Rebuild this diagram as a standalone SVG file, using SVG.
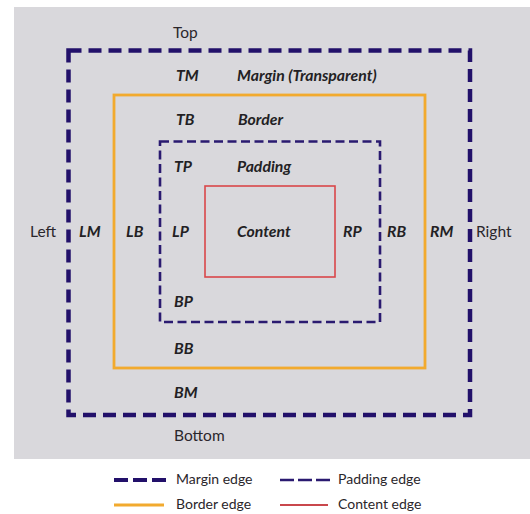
<svg xmlns="http://www.w3.org/2000/svg" width="530" height="514" viewBox="0 0 530 514">
<style>
.lbl{font-family:Lato,"Open Sans","Liberation Sans",sans-serif;font-size:15.8px;font-style:italic;font-weight:700;fill:#231f24}
.side{font-family:Lato,"Open Sans","Liberation Sans",sans-serif;font-size:15.5px;fill:#2a262b}
.leg{font-family:Lato,"Open Sans","Liberation Sans",sans-serif;font-size:14px;fill:#2a262b}
.margin{fill:none;stroke:#22106a;stroke-width:4.5;stroke-dasharray:13 7}
.border{fill:none;stroke:#f2aa2e;stroke-width:2.8}
.padding{fill:none;stroke:#2a1a70;stroke-width:2.6;stroke-dasharray:9 4.5}
.content{fill:none;stroke:#d9474a;stroke-width:1.6}
</style>
<rect x="0" y="0" width="530" height="514" fill="#ffffff"/>
<rect x="14" y="7" width="516" height="452" fill="#d9d8dc"/>
<g id="margin-box">
<rect x="68.5" y="50.5" width="401.5" height="364.5" fill="#f3f1f3" class="margin"/>
<text class="side" x="173" y="38">Top</text>
<text class="side" x="30" y="237">Left</text>
<text class="side" x="476" y="237">Right</text>
<text class="side" x="174" y="441">Bottom</text>
<text class="lbl" x="176" y="81">TM</text>
<text class="lbl" x="237" y="81">Margin (Transparent)</text>
<text class="lbl" x="79" y="237">LM</text>
<text class="lbl" x="430" y="237">RM</text>
<text class="lbl" x="174" y="398">BM</text>
</g>
<g id="border-box">
<rect x="114" y="95" width="311" height="273" class="border"/>
<text class="lbl" x="176" y="125">TB</text>
<text class="lbl" x="238" y="125">Border</text>
<text class="lbl" x="126" y="237">LB</text>
<text class="lbl" x="387" y="237">RB</text>
<text class="lbl" x="174" y="354">BB</text>
</g>
<g id="padding-box">
<rect x="160" y="141.5" width="220" height="180.5" class="padding"/>
<text class="lbl" x="174" y="172">TP</text>
<text class="lbl" x="237" y="172">Padding</text>
<text class="lbl" x="172" y="237">LP</text>
<text class="lbl" x="343" y="237">RP</text>
<text class="lbl" x="174" y="307">BP</text>
</g>
<g id="content-box">
<rect x="205" y="186" width="130" height="91" class="content"/>
<text class="lbl" x="237" y="237">Content</text>
</g>
<g id="legend">
<line x1="114" y1="480" x2="166" y2="480" stroke="#22106a" stroke-width="4" stroke-dasharray="14 5"/>
<text class="leg" x="176" y="484">Margin edge</text>
<line x1="280" y1="480" x2="330" y2="480" stroke="#2a1a70" stroke-width="2.5" stroke-dasharray="14 4"/>
<text class="leg" x="338" y="484">Padding edge</text>
<line x1="114" y1="505" x2="164" y2="505" stroke="#f2aa2e" stroke-width="3"/>
<text class="leg" x="176" y="509">Border edge</text>
<line x1="280" y1="505" x2="328" y2="505" stroke="#c9474c" stroke-width="2"/>
<text class="leg" x="338" y="509">Content edge</text>
</g>
</svg>
